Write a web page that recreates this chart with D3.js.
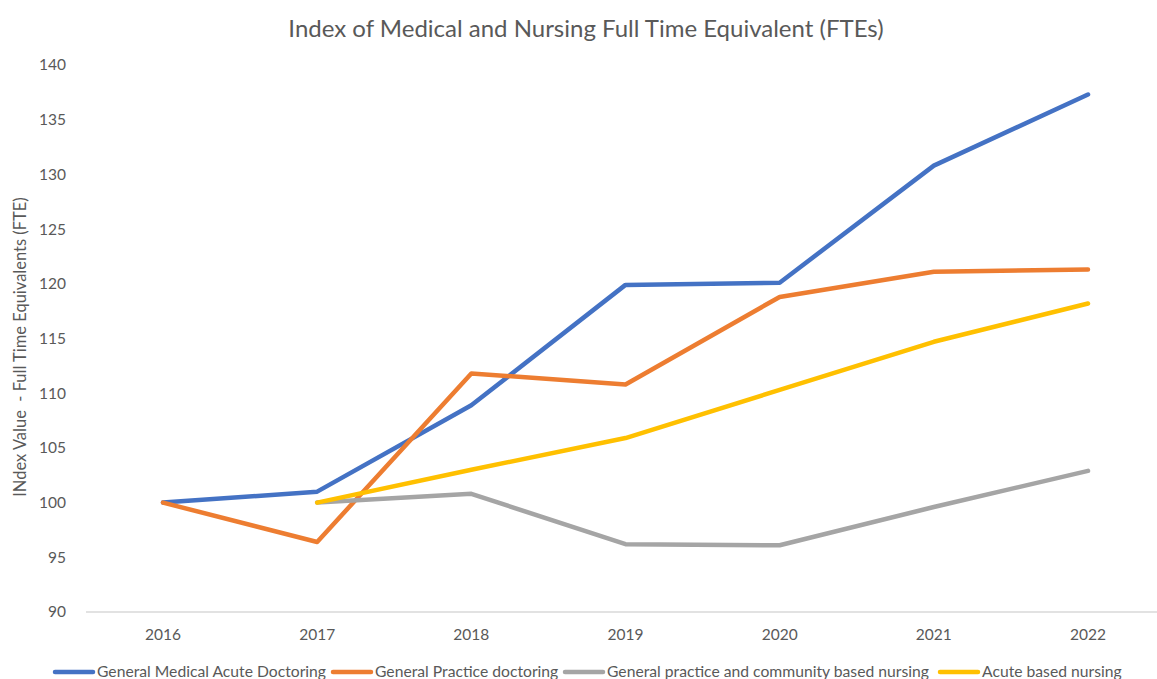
<!DOCTYPE html>
<html>
<head>
<meta charset="utf-8">
<script src="https://cdn.jsdelivr.net/npm/d3@7"></script>
<style>
  body { margin: 0; background: #fff; overflow: hidden; }
  svg { display: block; font-family: Lato, "Open Sans", sans-serif; }
</style>
</head>
<body>
<svg></svg>
<script>
const years = ['2016', '2017', '2018', '2019', '2020', '2021', '2022'];
const medicalAcute = [100, 101.0, 108.9, 119.9, 120.1, 130.8, 137.3];
const gpDoctoring = [100, 96.4, 111.8, 110.8, 118.8, 121.1, 121.3];
const gpNursing = [null, 100, 100.8, 96.2, 96.1, 99.6, 102.9];
const acuteNursing = [null, 100, 103.0, 105.9, 110.3, 114.7, 118.2];
const seriesNames = ['General Medical Acute Doctoring', 'General Practice doctoring',
  'General practice and community based nursing', 'Acute based nursing'];
const colors = ['#4472C4', '#ED7D31', '#A5A5A5', '#FFC000'];
const yTicks = [90, 95, 100, 105, 110, 115, 120, 125, 130, 135, 140];

const width = 1157, height = 679;
const svg = d3.select('svg').attr('width', width).attr('height', height);

const x = d3.scalePoint().domain(years).range([163, 1088]);
const y = d3.scaleLinear().domain([90, 140]).range([612, 65]);

// title
svg.append('text')
  .attr('x', 586).attr('y', 37)
  .attr('text-anchor', 'middle')
  .attr('fill', '#595959')
  .style('font-size', '24px')
  .text('Index of Medical and Nursing Full Time Equivalent (FTEs)');

// x axis line
svg.append('line')
  .attr('x1', 86).attr('x2', 1165)
  .attr('y1', y(90)).attr('y2', y(90))
  .attr('stroke', '#d9d9d9').attr('stroke-width', 1.3);

// y tick labels
svg.append('g').selectAll('text').data(yTicks).join('text')
  .attr('x', 66).attr('y', d => y(d))
  .attr('dy', '0.35em')
  .attr('text-anchor', 'end')
  .attr('fill', '#595959')
  .style('font-size', '15.5px')
  .text(d => d);

// x tick labels
svg.append('g').selectAll('text').data(years).join('text')
  .attr('x', d => x(d)).attr('y', 640)
  .attr('text-anchor', 'middle')
  .attr('fill', '#595959')
  .style('font-size', '15.5px')
  .text(d => d);

// y axis title
svg.append('text')
  .attr('transform', 'translate(26,347) rotate(-90)')
  .attr('text-anchor', 'middle')
  .attr('fill', '#595959')
  .style('font-size', '16.5px')
  .style('white-space', 'pre')
  .text('INdex Value  - Full Time Equivalents (FTE)');

const allSeries = [medicalAcute, gpDoctoring, gpNursing, acuteNursing];
const line = d3.line()
  .defined(d => d.v != null)
  .x(d => x(d.year))
  .y(d => y(d.v));

// draw in order: blue, orange, gray, yellow
allSeries.forEach((vals, i) => {
  const pts = years.map((yr, j) => ({ year: yr, v: vals[j] }));
  svg.append('path')
    .datum(pts)
    .attr('d', line)
    .attr('fill', 'none')
    .attr('stroke', colors[i])
    .attr('stroke-width', 4.5)
    .attr('stroke-linejoin', 'round')
    .attr('stroke-linecap', 'round');
});

// legend
const legendX = [55, 333, 565, 940];
const legend = svg.append('g');
seriesNames.forEach((name, i) => {
  legend.append('line')
    .attr('x1', legendX[i]).attr('x2', legendX[i] + 38)
    .attr('y1', 672).attr('y2', 672)
    .attr('stroke', colors[i]).attr('stroke-width', 4.5)
    .attr('stroke-linecap', 'round');
  legend.append('text')
    .attr('x', legendX[i] + 42).attr('y', 672)
    .attr('dy', '0.35em')
    .attr('fill', '#595959')
    .style('font-size', '15.7px')
    .text(name);
});
</script>
</body>
</html>
